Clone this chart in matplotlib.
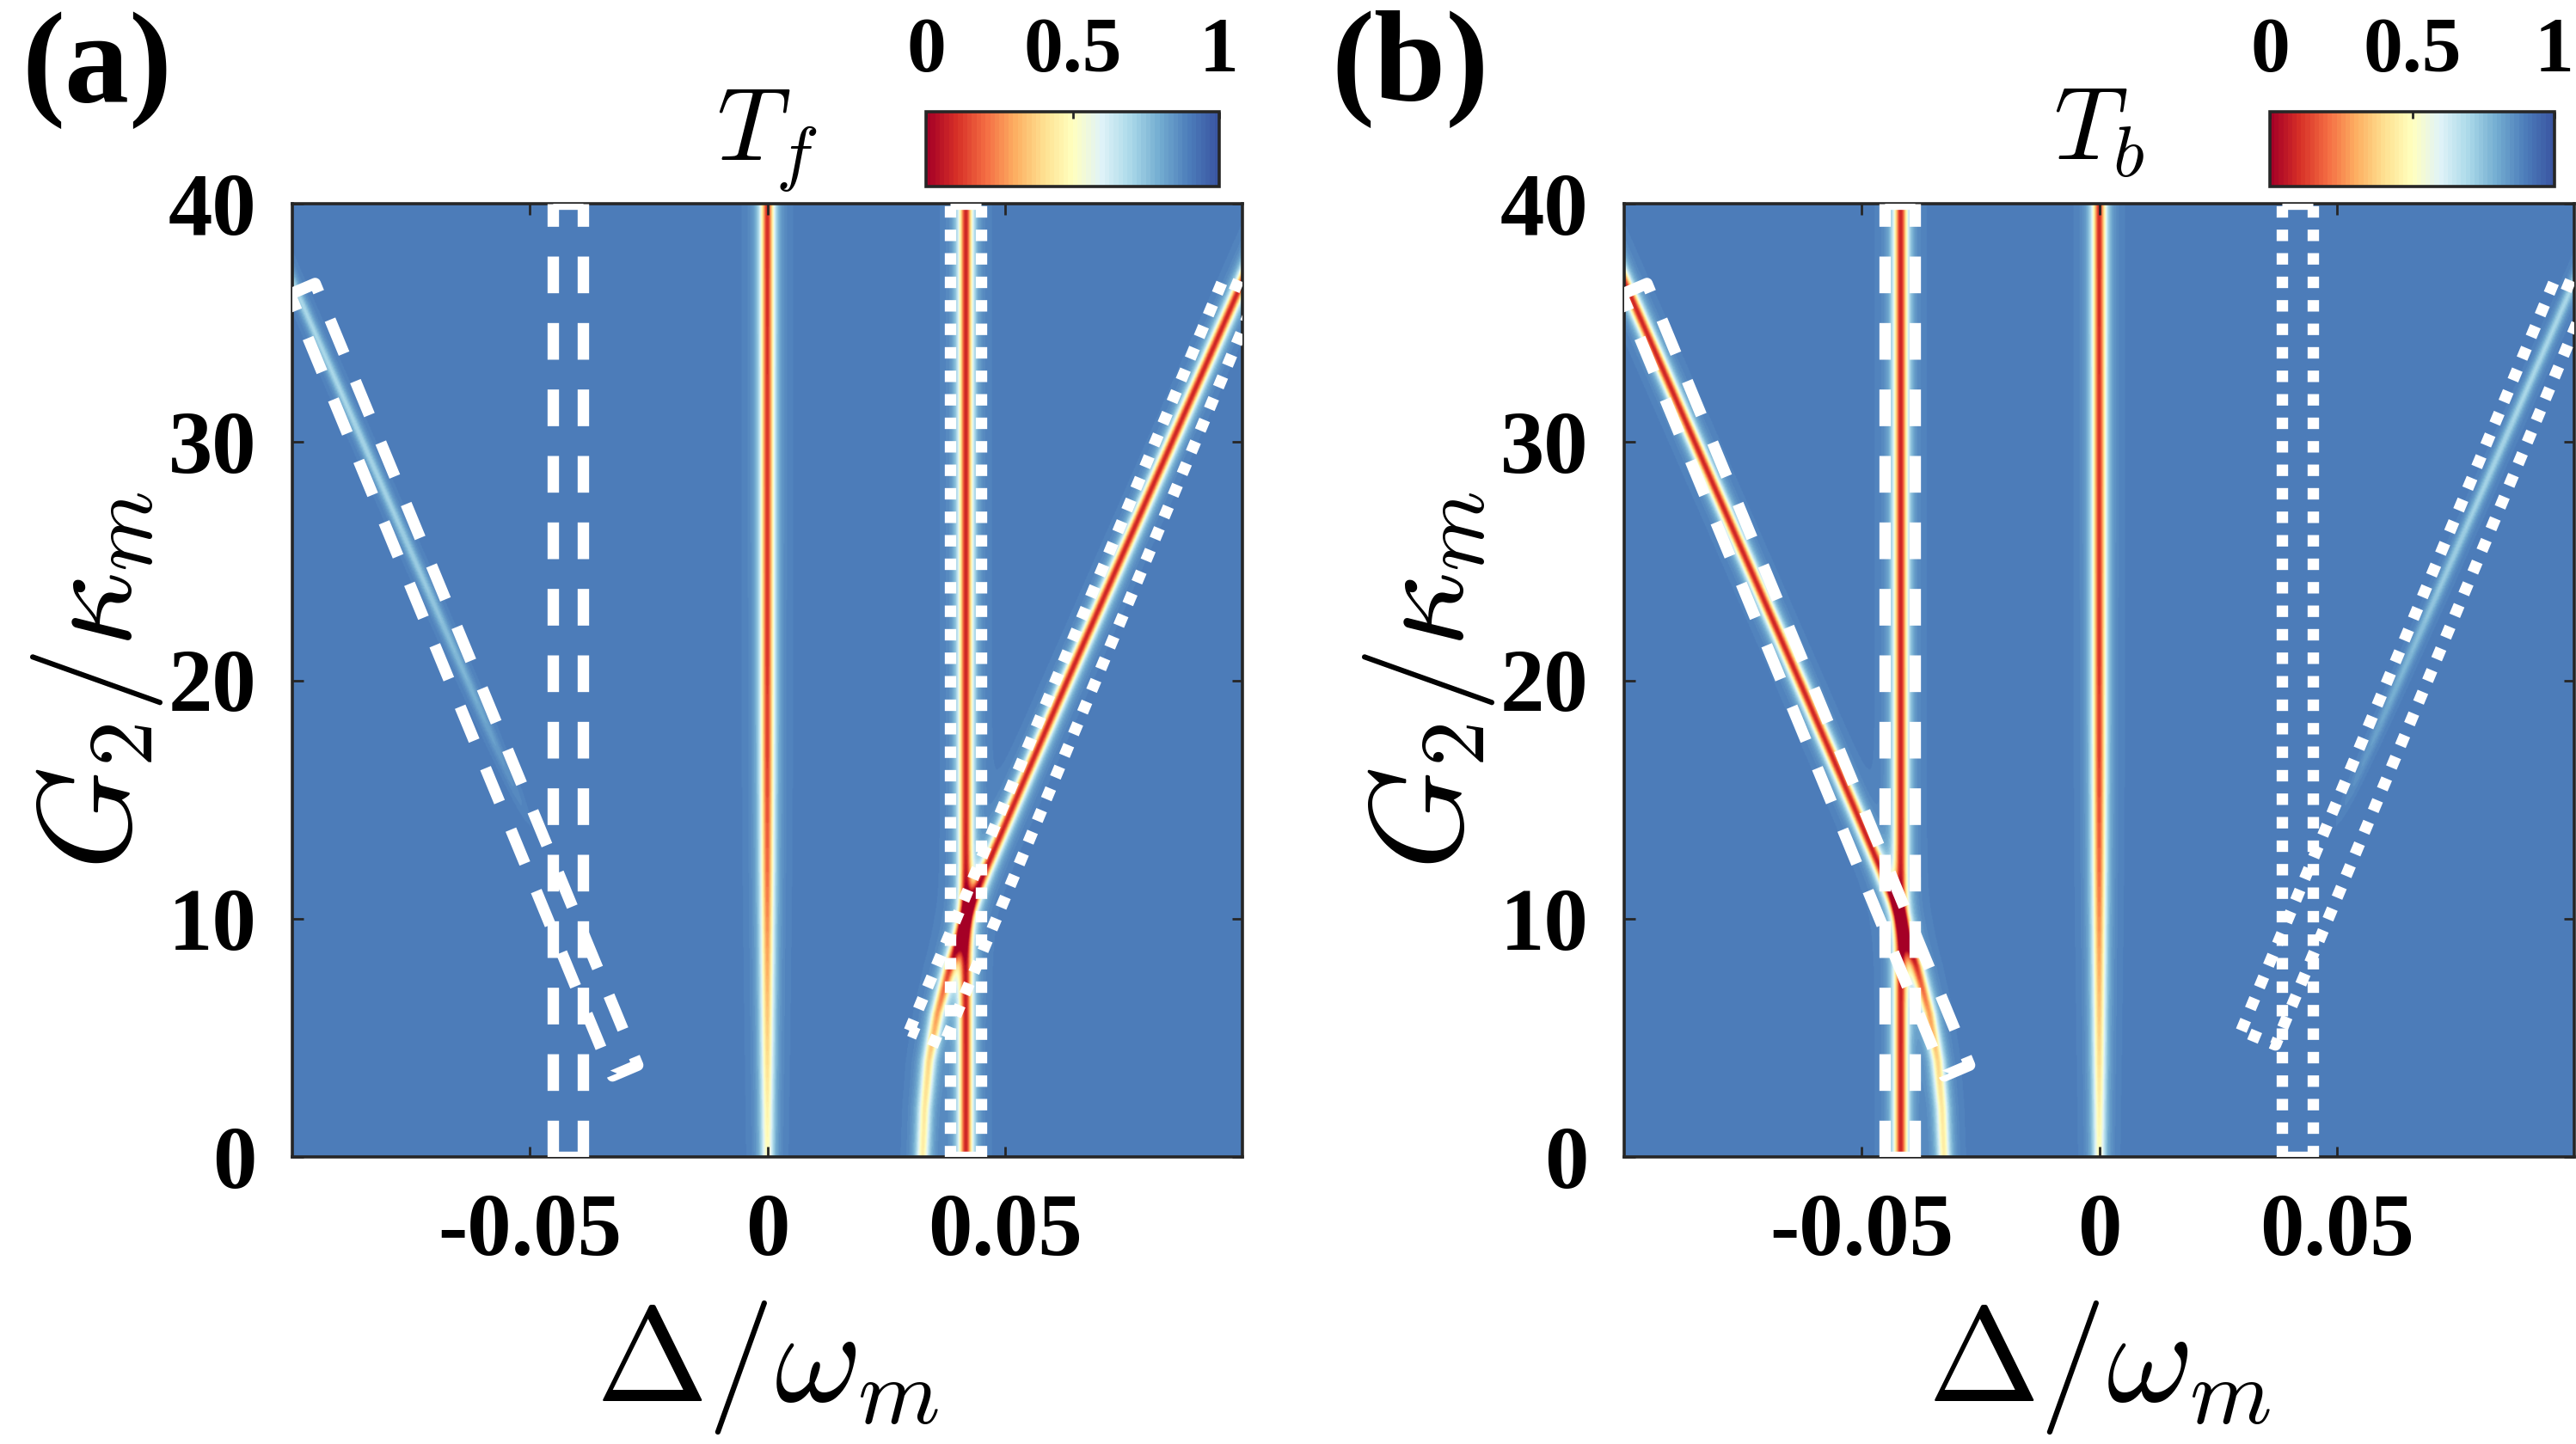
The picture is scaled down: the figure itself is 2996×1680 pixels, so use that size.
import numpy as np
import matplotlib
matplotlib.use("Agg")
import matplotlib.pyplot as plt
from matplotlib.colors import LinearSegmentedColormap

plt.rcParams['mathtext.fontset'] = 'cm'
plt.rcParams['font.family'] = ['Liberation Serif', 'DejaVu Serif']

# ---------------- values ----------------
delta_limits = [-0.1, 0.1]
G_limits = [0, 40]
delta_ticks = [-0.05, 0, 0.05]
delta_ticklabels = ['-0.05', '0', '0.05']
G_ticks = [0, 10, 20, 30, 40]
G_ticklabels = ['0', '10', '20', '30', '40']
cbar_ticks = [0, 0.5, 1]
cbar_ticklabels = ['0', '0.5', '1']
panel_labels = ['(a)', '(b)']
panel_titles = [r'$T_f$', r'$T_b$']

# |Delta| of the hyperbolic branch versus G2/kappa_m
branch_G = [0, 2, 4, 6, 8, 10, 12, 14, 16, 20, 24, 28, 32, 36, 40]
branch_delta = [0.0327, 0.0331, 0.0340, 0.0358, 0.0385, 0.0418, 0.0459,
                0.0502, 0.0545, 0.0632, 0.0720, 0.0808, 0.0896, 0.0984, 0.1072]
# minimum transmission along the strong and the weak branch
strong_branch_Tmin = [0.45, 0.43, 0.38, 0.28, 0.15, 0.06, 0.07, 0.08,
                      0.08, 0.08, 0.08, 0.08, 0.08, 0.08, 0.08]
weak_branch_Tmin = [0.90, 0.90, 0.90, 0.90, 0.90, 0.90, 0.90, 0.89,
                    0.85, 0.78, 0.73, 0.71, 0.70, 0.70, 0.70]
# vertical resonances
side_line_delta = 0.0418
side_line_Tmin = 0.08
center_line_delta = 0.0
center_G = [0, 2, 4, 6, 8, 10, 12, 16, 20, 40]
center_Tmin = [0.50, 0.46, 0.40, 0.35, 0.30, 0.25, 0.20, 0.14, 0.12, 0.10]
background_T = 0.9
line_halfwidth = 0.0019
# which side carries the strong branch: +1 right (T_f), -1 left (T_b)
strong_side = [1, -1]

# annotation frames: vertical boxes as [left, right] x [bottom, top]
dashed_vbox_delta = [-0.0452, -0.0388]
dotted_vbox_delta = [0.0385, 0.0449]
vbox_G = [0, 40]
# tilted frames, (Delta, G) corners
dashed_tbox_delta = [-0.1005, -0.0952, -0.0273, -0.0326, -0.1005]
dashed_tbox_G = [36.2, 36.65, 3.85, 3.4, 36.2]
dotted_tbox_delta = [0.0299, 0.0959, 0.1031, 0.0371, 0.0299]
dotted_tbox_G = [5.30, 36.8, 36.2, 4.70, 5.30]

# ---------------- colour map (red - yellow - blue) ----------------
cmap = LinearSegmentedColormap.from_list('rdylbu_m', [
    (0.00, '#a50026'), (0.10, '#d73027'), (0.20, '#f46d43'),
    (0.30, '#fdae61'), (0.40, '#fee090'), (0.50, '#ffffbf'),
    (0.60, '#e0f3f8'), (0.70, '#abd9e9'), (0.80, '#74add1'),
    (0.90, '#4d7ebb'), (1.00, '#3a56a2')], N=64)


def dip(d, d0, depth, w):
    u = (d - d0) / w
    return depth / (1.0 + u * u) ** 2


def transmission(side):
    dgrid = np.linspace(delta_limits[0], delta_limits[1], 1400)
    ggrid = np.linspace(G_limits[0], G_limits[1], 900)
    D, Gm = np.meshgrid(dgrid, ggrid)
    br = np.interp(ggrid, branch_G, branch_delta)[:, None]
    strong = np.interp(ggrid, branch_G, strong_branch_Tmin)[:, None]
    weak = np.interp(ggrid, branch_G, weak_branch_Tmin)[:, None]
    cen = np.interp(ggrid, center_G, center_Tmin)[:, None]
    T = np.full_like(D, background_T)
    T -= dip(D, center_line_delta, background_T - cen, line_halfwidth)
    T -= dip(D, side * side_line_delta, background_T - side_line_Tmin, line_halfwidth)
    T -= dip(D, side * br, background_T - strong, line_halfwidth)
    T -= dip(D, -side * br, background_T - weak, line_halfwidth * 0.8)
    return np.clip(T, 0, 1)


def frame(ax, xs, ys, pattern, lw=4.8):
    ln, = ax.plot(xs, ys, color='white', lw=lw, linestyle=(0, pattern),
                  dash_capstyle='butt', solid_capstyle='butt', zorder=3)
    return ln


def vframe(ax, xlr, ylim, pattern, lw=4.8):
    # two long sides, drawn upward from the bottom, plus the short ends
    for x in xlr:
        frame(ax, [x, x], ylim, pattern, lw)
    for y in ylim:
        ax.plot(xlr, [y, y], color='white', lw=lw, solid_capstyle='butt', zorder=3)


W, H = 2996, 1680
fig = plt.figure(figsize=(W / 200, H / 200), dpi=200)

axes_rects = [[340 / W, 1 - 1346 / H, 1105 / W, 1109 / H],
              [1889 / W, 1 - 1346 / H, 1105 / W, 1109 / H]]
cbar_rects = [[1077 / W, 1 - 217 / H, 341 / W, 87 / H],
              [2640 / W, 1 - 217 / H, 331 / W, 87 / H]]
frame_col = '#262626'
dash_pattern = (3.2, 2.6)
dot_pattern = (1.0, 1.05)

for k in range(2):
    ax = fig.add_axes(axes_rects[k])
    T = transmission(strong_side[k])
    im = ax.imshow(T, extent=[delta_limits[0], delta_limits[1], G_limits[0], G_limits[1]],
                   origin='lower', aspect='auto', cmap=cmap, vmin=0, vmax=1,
                   interpolation='bilinear', zorder=0)
    ax.set_xlim(delta_limits)
    ax.set_ylim(G_limits)
    ax.set_xticks(delta_ticks)
    ax.set_xticklabels(delta_ticklabels)
    ax.set_yticks(G_ticks)
    ax.set_yticklabels(G_ticklabels)
    ax.tick_params(direction='in', top=True, right=True, length=4.5, width=1.0,
                   color=frame_col, labelsize=37)
    ax.tick_params(axis='y', pad=15)
    ax.tick_params(axis='x', pad=15)
    for lab in ax.get_xticklabels() + ax.get_yticklabels():
        lab.set_fontweight('bold')
    for sp in ax.spines.values():
        sp.set_linewidth(1.3)
        sp.set_color(frame_col)

    vframe(ax, dashed_vbox_delta, vbox_G, dash_pattern)
    frame(ax, dashed_tbox_delta, dashed_tbox_G, dash_pattern)
    vframe(ax, dotted_vbox_delta, vbox_G, dot_pattern)
    frame(ax, dotted_tbox_delta, dotted_tbox_G, dot_pattern)

    ax.text(0.5, -0.256, r'$\Delta/\omega_m$', transform=ax.transAxes,
            ha='center', va='baseline', fontsize=56)
    ax.text(-0.170, 0.5, r'$G_2/\kappa_m$', transform=ax.transAxes,
            ha='center', va='baseline', rotation=90, rotation_mode='anchor',
            fontsize=55)
    ax.text(0.5, 1.046, panel_titles[k], transform=ax.transAxes,
            ha='center', va='baseline', fontsize=43)

    cax = fig.add_axes(cbar_rects[k])
    cb = fig.colorbar(im, cax=cax, orientation='horizontal', ticks=cbar_ticks)
    cax.xaxis.set_ticks_position('top')
    cax.xaxis.set_label_position('top')
    cb.set_ticklabels(cbar_ticklabels)
    cax.tick_params(direction='in', length=3, width=1.0, color=frame_col,
                    labelsize=33, pad=10)
    for lab in cax.get_xticklabels():
        lab.set_fontweight('bold')
    cb.outline.set_linewidth(1.3)
    cb.outline.set_edgecolor(frame_col)

fig.text(25 / W, 1 - 82 / H, panel_labels[0], ha='left', va='center',
         fontsize=54, fontweight='bold')
fig.text(1548 / W, 1 - 80 / H, panel_labels[1], ha='left', va='center',
         fontsize=54, fontweight='bold')

fig.savefig('out.png', dpi=200)
